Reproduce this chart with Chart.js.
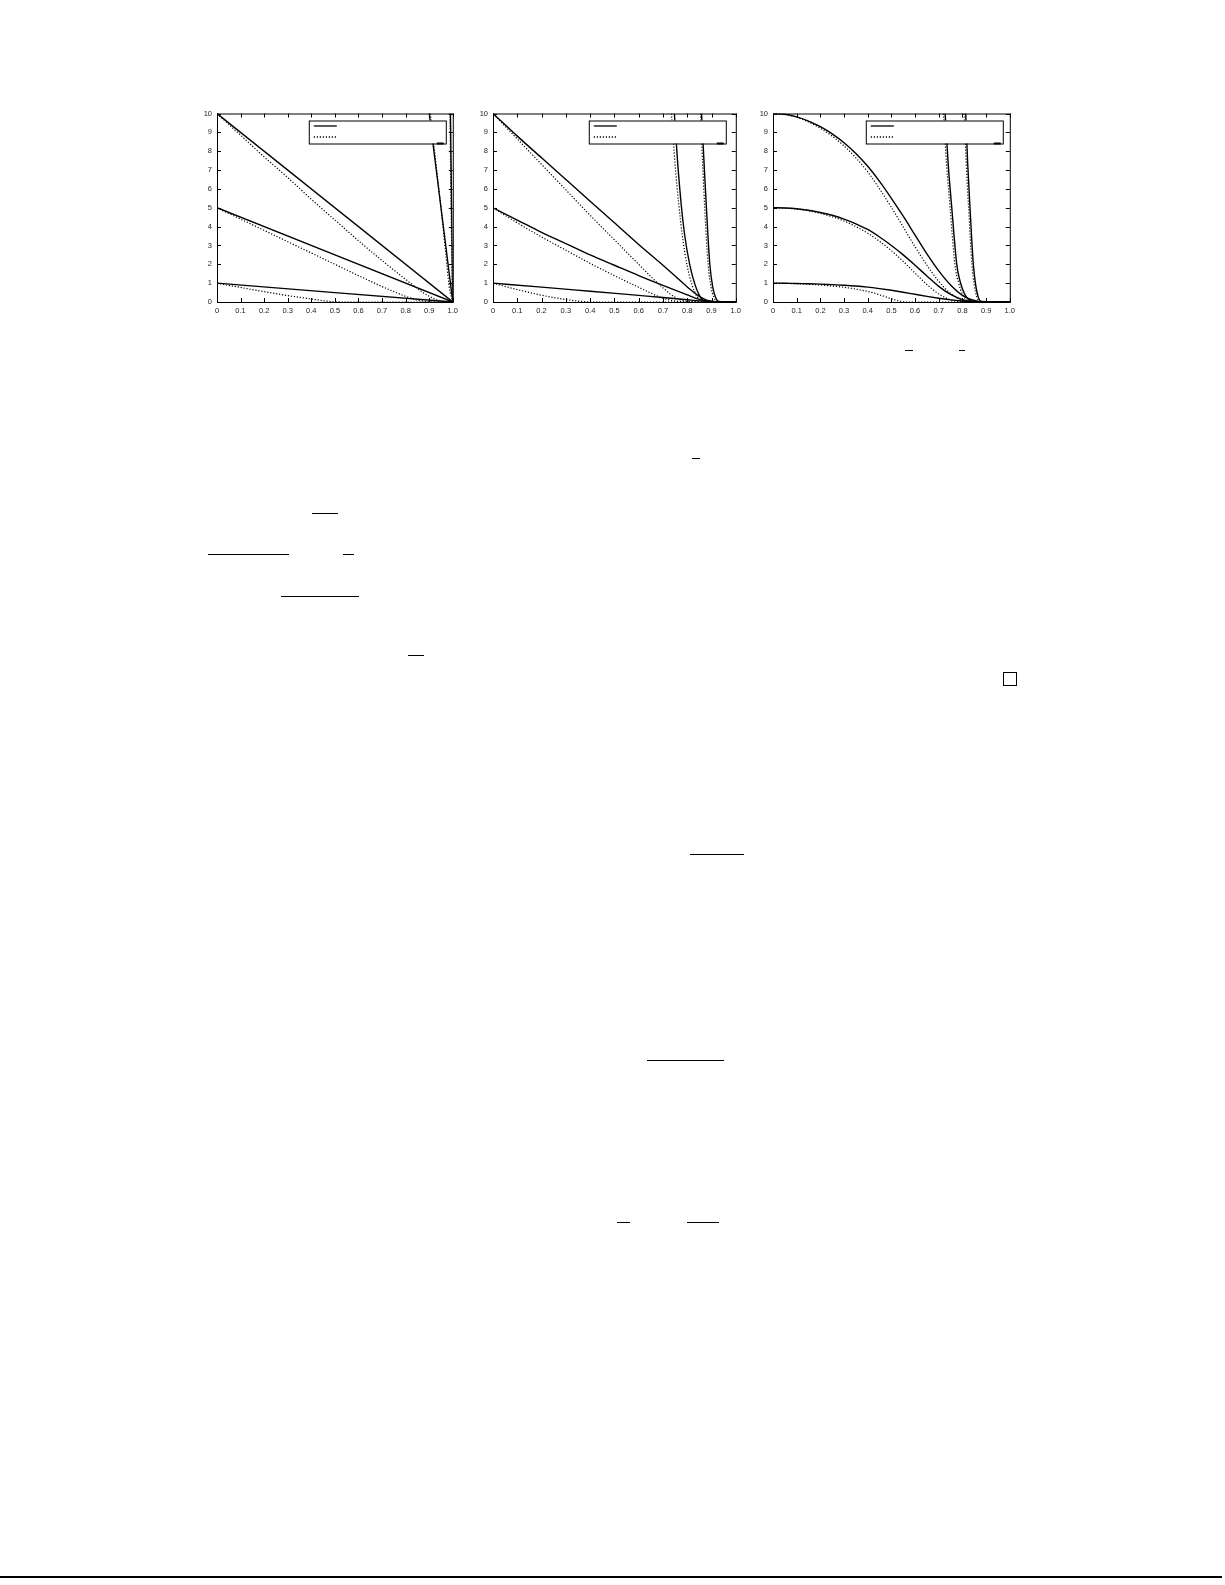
<!DOCTYPE html>
<html>
<head>
<meta charset="utf-8">
<script src="https://cdn.jsdelivr.net/npm/chart.js"></script>
<style>
  body { margin: 0; background: #fff; }
  #page { position: relative; width: 1225px; height: 1585px; overflow: hidden; background: #fff; }
  canvas { position: absolute; }
  .bar { position: absolute; height: 1px; background: #000; }
  .qed { position: absolute; width: 12px; height: 12px; border: 1.3px solid #000; }
</style>
</head>
<body>
<div id="page">
  <canvas id="c1" width="272" height="216" style="left:190px;top:104px"></canvas>
  <canvas id="c2" width="279" height="216" style="left:466px;top:104px"></canvas>
  <canvas id="c3" width="273" height="216" style="left:746px;top:104px"></canvas>

  <!-- leftover rules of the page (fraction bars, end-of-proof box, footer line) -->
  <div class="bar" style="left:905px;top:350px;width:8px"></div>
  <div class="bar" style="left:959px;top:350px;width:6px"></div>
  <div class="bar" style="left:692px;top:458px;width:8px"></div>
  <div class="bar" style="left:312px;top:513px;width:26px"></div>
  <div class="bar" style="left:208px;top:554px;width:81px"></div>
  <div class="bar" style="left:343px;top:554px;width:11px"></div>
  <div class="bar" style="left:281px;top:596px;width:78px"></div>
  <div class="bar" style="left:408px;top:655px;width:16px"></div>
  <div class="qed" style="left:1003px;top:672px"></div>
  <div class="bar" style="left:690px;top:854px;width:54px"></div>
  <div class="bar" style="left:647px;top:1060px;width:77px"></div>
  <div class="bar" style="left:617px;top:1222px;width:13px"></div>
  <div class="bar" style="left:687px;top:1222px;width:32px"></div>
  <div class="bar" style="left:0;top:1576px;width:1222px;height:2px"></div>
</div>
<script>
// tick values
const xTicks = [0, 0.1, 0.2, 0.3, 0.4, 0.5, 0.6, 0.7, 0.8, 0.9, 1];
const yTicks = [0, 1, 2, 3, 4, 5, 6, 7, 8, 9, 10];

// ---- left panel ----
const p1LinX = [0, 1];
const p1S1 = [1, 0];
const p1S5 = [5, 0];
const p1S10 = [10, 0];
const p1S100X = [0.9, 1];
const p1S100 = [10, 0];
const p1S1000X = [0.99, 1];
const p1S1000 = [10, 0];
const p1D1X = [0, 0.1, 0.2, 0.3, 0.4, 0.45, 0.5, 0.55, 1];
const p1D1 = [1, 0.77, 0.55, 0.34, 0.16, 0.07, 0.01, 0, 0];
const p1D5X = [0, 0.1, 0.2, 0.3, 0.4, 0.5, 0.6, 0.7, 0.75, 0.8, 0.85, 0.9, 1];
const p1D5 = [5, 4.4, 3.8, 3.2, 2.6, 2.0, 1.4, 0.82, 0.55, 0.3, 0.1, 0.02, 0];
const p1D10X = [0, 0.1, 0.2, 0.3, 0.4, 0.5, 0.6, 0.7, 0.8, 0.85, 0.9, 0.95, 1];
const p1D10 = [10, 8.85, 7.7, 6.6, 5.45, 4.35, 3.25, 2.2, 1.2, 0.72, 0.3, 0.05, 0];
const p1D100X = [0.905, 0.93, 0.95, 0.97, 0.985, 1];
const p1D100 = [10, 7.2, 5, 2.6, 0.8, 0];
const p1D1000X = [0.988, 0.995, 1];
const p1D1000 = [10, 3, 0];

// ---- middle panel ----
const p2S10X = [0, 0.1, 0.2, 0.3, 0.4, 0.5, 0.6, 0.7, 0.75, 0.8, 0.85, 0.88, 0.92, 1];
const p2S10 = [10, 8.8, 7.65, 6.5, 5.35, 4.2, 3.05, 1.95, 1.38, 0.8, 0.3, 0.1, 0.01, 0];
const p2D10X = [0, 0.1, 0.2, 0.3, 0.4, 0.5, 0.6, 0.65, 0.7, 0.75, 0.8, 1];
const p2D10 = [10, 8.65, 7.3, 5.95, 4.6, 3.3, 2.0, 1.35, 0.75, 0.25, 0.03, 0];
const p2S5X = [0, 0.1, 0.2, 0.3, 0.4, 0.5, 0.6, 0.7, 0.8, 0.85, 0.9, 1];
const p2S5 = [5, 4.35, 3.7, 3.1, 2.5, 1.95, 1.4, 0.88, 0.38, 0.14, 0.03, 0];
const p2D5X = [0, 0.1, 0.2, 0.3, 0.4, 0.5, 0.6, 0.65, 0.7, 0.75, 0.8, 1];
const p2D5 = [5, 4.2, 3.45, 2.75, 2.05, 1.4, 0.78, 0.47, 0.2, 0.05, 0, 0];
const p2S1X = [0, 0.2, 0.4, 0.6, 0.7, 0.8, 0.85, 0.9, 1];
const p2S1 = [1, 0.79, 0.57, 0.35, 0.24, 0.12, 0.06, 0.02, 0];
const p2D1X = [0, 0.1, 0.2, 0.3, 0.35, 0.4, 1];
const p2D1 = [1, 0.66, 0.36, 0.13, 0.05, 0, 0];
const p2S100X = [0.747, 0.76, 0.775, 0.79, 0.81, 0.83, 0.85, 0.87, 1];
const p2S100 = [10, 7.5, 5.2, 3.5, 2.0, 1.0, 0.35, 0.05, 0];
const p2D100X = [0.735, 0.75, 0.765, 0.78, 0.8, 0.82, 0.84, 0.86, 1];
const p2D100 = [10, 7.3, 5.2, 3.5, 1.9, 0.9, 0.3, 0.05, 0];
const p2S1000X = [0.859, 0.87, 0.879, 0.893, 0.905, 0.915, 0.93, 1];
const p2S1000 = [10, 7.2, 5, 2, 0.8, 0.3, 0.03, 0];
const p2D1000X = [0.855, 0.864, 0.872, 0.886, 0.898, 0.91, 0.925, 1];
const p2D1000 = [10, 7.2, 5, 2, 0.8, 0.25, 0.02, 0];

// ---- right panel ----
const p3GridX = [0, 0.05, 0.1, 0.15, 0.2, 0.25, 0.3, 0.35, 0.4, 0.45, 0.5, 0.55, 0.6, 0.65, 0.7, 0.75, 0.8, 0.85, 0.9, 1];
const p3S10 = [10, 9.96, 9.82, 9.6, 9.3, 8.92, 8.45, 7.88, 7.2, 6.4, 5.5, 4.55, 3.55, 2.55, 1.65, 0.9, 0.35, 0.08, 0.01, 0];
const p3D10 = [10, 9.95, 9.8, 9.55, 9.22, 8.8, 8.28, 7.65, 6.9, 6.0, 5.02, 3.98, 2.93, 1.95, 1.1, 0.45, 0.1, 0.01, 0, 0];
const p3S5 = [5, 4.99, 4.95, 4.87, 4.75, 4.6, 4.4, 4.15, 3.85, 3.45, 3.0, 2.5, 1.95, 1.38, 0.83, 0.4, 0.13, 0.02, 0, 0];
const p3D5 = [5, 4.98, 4.93, 4.84, 4.7, 4.52, 4.3, 4.0, 3.65, 3.22, 2.72, 2.15, 1.53, 0.93, 0.43, 0.12, 0.01, 0, 0, 0];
const p3S1 = [1, 0.995, 0.98, 0.97, 0.95, 0.92, 0.89, 0.85, 0.79, 0.71, 0.62, 0.52, 0.41, 0.3, 0.2, 0.11, 0.05, 0.01, 0, 0];
const p3D1X = [0, 0.1, 0.2, 0.3, 0.4, 0.45, 0.5, 0.53, 0.56, 1];
const p3D1 = [1, 0.97, 0.9, 0.78, 0.56, 0.38, 0.17, 0.06, 0, 0];
const p3S100X = [0.727, 0.74, 0.755, 0.776, 0.79, 0.81, 0.83, 0.85, 1];
const p3S100 = [10, 7.3, 5, 2, 1.1, 0.4, 0.1, 0.01, 0];
const p3D100X = [0.72, 0.733, 0.748, 0.768, 0.782, 0.8, 0.82, 0.84, 1];
const p3D100 = [10, 7.3, 5, 2, 1.1, 0.4, 0.1, 0.01, 0];
const p3S1000X = [0.814, 0.822, 0.832, 0.846, 0.856, 0.866, 0.88, 1];
const p3S1000 = [10, 7.4, 5, 2, 0.9, 0.3, 0.03, 0];
const p3D1000X = [0.807, 0.816, 0.826, 0.84, 0.85, 0.86, 0.875, 1];
const p3D1000 = [10, 7.4, 5, 2, 0.9, 0.3, 0.03, 0];

const DOTS = [1.2, 1.8];

function pts(xs, ys) {
  return xs.map((x, i) => ({ x: x, y: ys[i] }));
}
function solid(xs, ys) {
  return { data: pts(xs, ys), borderColor: '#000', borderWidth: 1.4, pointRadius: 0,
           cubicInterpolationMode: 'monotone', fill: false };
}
function dotted(xs, ys) {
  return { data: pts(xs, ys), borderColor: '#000', borderWidth: 1.2, borderDash: DOTS,
           pointRadius: 0, cubicInterpolationMode: 'monotone', fill: false };
}

// gnuplot-like frame: box, inward ticks on all sides, legend box over the curves
const framePlugin = {
  id: 'frame',
  afterDatasetsDraw(chart, args, opts) {
    const ctx = chart.ctx, a = chart.chartArea;
    const xs = chart.scales.x, ys = chart.scales.y;
    ctx.save();
    ctx.strokeStyle = '#000';
    ctx.lineWidth = 1;
    ctx.beginPath();
    xTicks.forEach(v => {
      const px = Math.round(xs.getPixelForValue(v)) + 0.5;
      ctx.moveTo(px, a.bottom); ctx.lineTo(px, a.bottom - 4);
      ctx.moveTo(px, a.top); ctx.lineTo(px, a.top + 4);
    });
    yTicks.forEach(v => {
      const py = Math.round(ys.getPixelForValue(v)) + 0.5;
      ctx.moveTo(a.left, py); ctx.lineTo(a.left + 4, py);
      ctx.moveTo(a.right, py); ctx.lineTo(a.right - 4, py);
    });
    ctx.stroke();
    ctx.strokeRect(a.left + 0.5, a.top + 0.5, a.width, a.height);

    // legend (its texts are empty in the source figure)
    const r = a.right - opts.legendRight, l = r - 137, t = a.top + 7, b = a.top + 30;
    ctx.fillStyle = '#fff';
    ctx.fillRect(l, t, r - l, b - t);
    ctx.strokeRect(l + 0.5, t + 0.5, r - l, b - t);
    ctx.lineWidth = 1.3;
    ctx.beginPath(); ctx.moveTo(l + 5, t + 5.5); ctx.lineTo(l + 28, t + 5.5); ctx.stroke();
    ctx.setLineDash(DOTS);
    ctx.beginPath(); ctx.moveTo(l + 5, t + 16.5); ctx.lineTo(l + 28, t + 16.5); ctx.stroke();
    ctx.setLineDash([]);
    ctx.lineWidth = 2;
    ctx.beginPath(); ctx.moveTo(r - 9, b); ctx.lineTo(r - 2, b); ctx.stroke();
    ctx.restore();
  }
};

const tickFont = { family: "'Liberation Sans', Arial, sans-serif", size: 7.5 };

function makeChart(id, datasets, legendRight) {
  return new Chart(document.getElementById(id), {
    type: 'line',
    data: { datasets: datasets },
    options: {
      responsive: false,
      animation: false,
      events: [],
      layout: { padding: { top: 8, right: 8, left: 0, bottom: 0 } },
      plugins: {
        legend: { display: false },
        tooltip: { enabled: false },
        frame: { legendRight: legendRight }
      },
      scales: {
        x: {
          type: 'linear', min: 0, max: 1,
          grid: { display: false, drawTicks: false },
          border: { display: false },
          afterFit: s => { s.height = 18; },
          afterBuildTicks: s => { s.ticks = xTicks.map(v => ({ value: v })); },
          ticks: {
            autoSkip: false, maxRotation: 0, padding: 4, color: '#222', font: tickFont,
            callback: v => (v === 0 ? '0' : v.toFixed(1))
          }
        },
        y: {
          type: 'linear', min: 0, max: 10,
          grid: { display: false, drawTicks: false },
          border: { display: false },
          afterFit: s => { s.width = 27; },
          afterBuildTicks: s => { s.ticks = yTicks.map(v => ({ value: v })); },
          ticks: { autoSkip: false, padding: 5, color: '#222', font: tickFont }
        }
      }
    },
    plugins: [framePlugin]
  });
}

makeChart('c1', [
  solid(p1LinX, p1S1), dotted(p1D1X, p1D1),
  solid(p1LinX, p1S5), dotted(p1D5X, p1D5),
  solid(p1LinX, p1S10), dotted(p1D10X, p1D10),
  solid(p1S100X, p1S100), dotted(p1D100X, p1D100),
  solid(p1S1000X, p1S1000), dotted(p1D1000X, p1D1000)
], 7);

makeChart('c2', [
  solid(p2S1X, p2S1), dotted(p2D1X, p2D1),
  solid(p2S5X, p2S5), dotted(p2D5X, p2D5),
  solid(p2S10X, p2S10), dotted(p2D10X, p2D10),
  solid(p2S100X, p2S100), dotted(p2D100X, p2D100),
  solid(p2S1000X, p2S1000), dotted(p2D1000X, p2D1000)
], 10);

makeChart('c3', [
  solid(p3GridX, p3S1), dotted(p3D1X, p3D1),
  solid(p3GridX, p3S5), dotted(p3GridX, p3D5),
  solid(p3GridX, p3S10), dotted(p3GridX, p3D10),
  solid(p3S100X, p3S100), dotted(p3D100X, p3D100),
  solid(p3S1000X, p3S1000), dotted(p3D1000X, p3D1000)
], 7);
</script>
</body>
</html>
